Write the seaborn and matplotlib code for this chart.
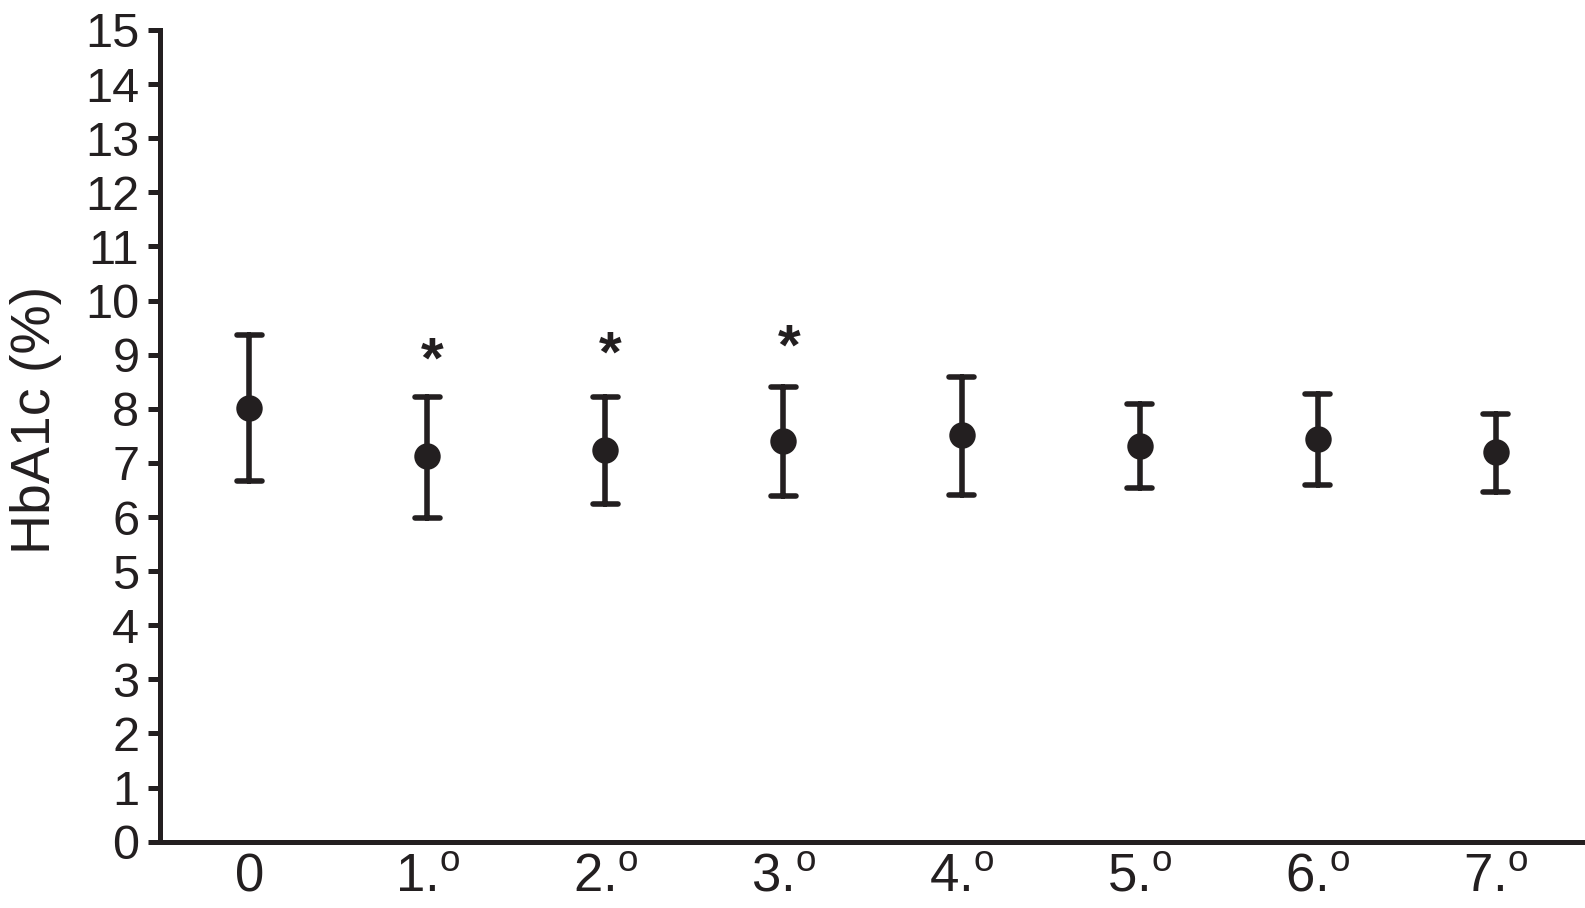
import pandas as pd
import matplotlib
matplotlib.use("Agg")
import matplotlib.pyplot as plt
import seaborn as sns

# Values (mean with lower / upper error bounds)
visits = ["0", "1.$^{\\rm o}$", "2.$^{\\rm o}$", "3.$^{\\rm o}$", "4.$^{\\rm o}$",
          "5.$^{\\rm o}$", "6.$^{\\rm o}$", "7.$^{\\rm o}$"]
hba1c_mean = [8.02, 7.12, 7.23, 7.40, 7.51, 7.32, 7.45, 7.21]
hba1c_low = [6.66, 5.99, 6.24, 6.39, 6.41, 6.53, 6.60, 6.47]
hba1c_high = [9.36, 8.21, 8.21, 8.40, 8.59, 8.08, 8.27, 7.91]
signif = [False, True, True, True, False, False, False, False]
star_y = [0, 8.85, 8.97, 9.09, 0, 0, 0, 0]
y_ticks = list(range(0, 16))

ink = "#231f20"

sns.set_style("white")
plt.rcParams["font.family"] = ["Liberation Sans", "DejaVu Sans"]
plt.rcParams["mathtext.fontset"] = "custom"
plt.rcParams["mathtext.rm"] = "Liberation Sans"

# long format: low / mean / high per visit, median + full range gives the bar
rows = []
for v, lo, m, hi in zip(visits, hba1c_low, hba1c_mean, hba1c_high):
    for val in (lo, m, hi):
        rows.append({"visit": v, "hba1c": val})
df = pd.DataFrame(rows)

fig = plt.figure(figsize=(15.85, 9.08), dpi=100)
ax = fig.add_axes([0.101, 0.073, 0.899, 0.894])

sns.pointplot(data=df, x="visit", y="hba1c", order=visits,
              estimator="median", errorbar=("pi", 100),
              linestyle="none", marker="o", markersize=17,
              color=ink, capsize=0.14,
              err_kws={"linewidth": 4.0}, ax=ax)

for i, (s, y) in enumerate(zip(signif, star_y)):
    if s:
        ax.text(i + 0.03, y, "*", ha="center", va="center",
                fontsize=42, fontweight="bold", color=ink)

ax.set_xlim(-0.5, 7.5)
ax.set_ylim(0, 15)
ax.set_yticks(y_ticks)
ax.set_xlabel("")
ax.set_ylabel("HbA1c (%)", fontsize=40, color=ink)
ax.yaxis.set_label_coords(-0.069, 0.52)

for side in ["top", "right"]:
    ax.spines[side].set_visible(False)
for side in ["left", "bottom"]:
    ax.spines[side].set_linewidth(3.6)
    ax.spines[side].set_color(ink)

ax.tick_params(axis="y", direction="out", length=9, width=3.6, color=ink,
               labelsize=35, labelcolor=ink, pad=6, left=True)
ax.tick_params(axis="x", length=0, labelsize=38, labelcolor=ink, pad=8)

plt.savefig("out.png", dpi=100)
